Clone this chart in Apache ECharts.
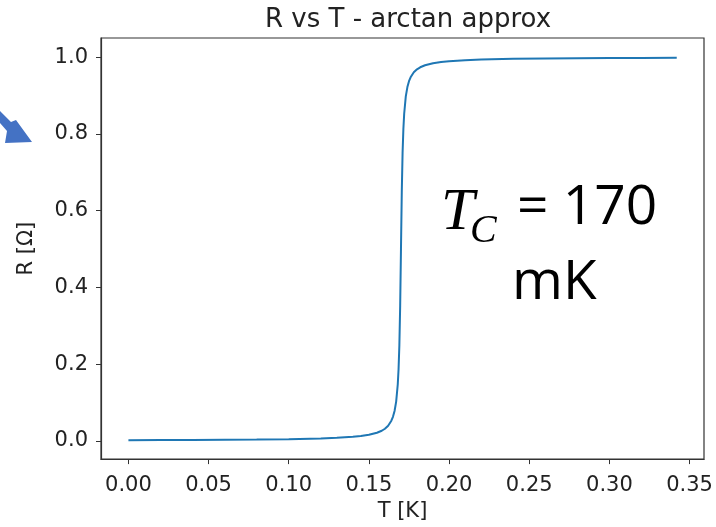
<!DOCTYPE html>
<html><head><meta charset="utf-8">
<script src="https://cdn.jsdelivr.net/npm/echarts@6/dist/echarts.min.js"></script>
<style>html,body{margin:0;padding:0;background:#fff}#c{width:716px;height:527px}</style>
</head><body><div id="c"></div>
<script>
// Temperature samples [K]
const temps = [0, 0.02, 0.04, 0.06, 0.08, 0.10, 0.12, 0.13, 0.14, 0.145, 0.15, 0.155, 0.158, 0.16, 0.162, 0.164, 0.165, 0.166, 0.167, 0.168, 0.1685, 0.169, 0.1695, 0.17, 0.1705, 0.171, 0.1715, 0.172, 0.173, 0.174, 0.175, 0.176, 0.178, 0.18, 0.182, 0.185, 0.19, 0.195, 0.20, 0.21, 0.22, 0.24, 0.26, 0.28, 0.30, 0.32, 0.342];
// Resistance [Ohm]
const resist = [0.0019, 0.0021, 0.0024, 0.0029, 0.0035, 0.0045, 0.0064, 0.0080, 0.0106, 0.0127, 0.0159, 0.0212, 0.0265, 0.0317, 0.0396, 0.0526, 0.0628, 0.0780, 0.1024, 0.1476, 0.1872, 0.25, 0.3524, 0.5, 0.6476, 0.75, 0.8128, 0.8524, 0.8976, 0.9220, 0.9372, 0.9474, 0.9604, 0.9683, 0.9735, 0.9788, 0.9841, 0.9873, 0.9894, 0.9920, 0.9936, 0.9955, 0.9965, 0.9971, 0.9976, 0.9979, 0.9981];
const xTicks = [0, 0.05, 0.10, 0.15, 0.20, 0.25, 0.30, 0.35];
const yTicks = [0, 0.2, 0.4, 0.6, 0.8, 1.0];
const titleText = 'R vs T - arctan approx';
const xName = 'T [K]';
const yName = 'R [Ω]';

const chart = echarts.init(document.getElementById('c'), null, {renderer: 'canvas'});
const font = 'DejaVu Sans';
const axisColor = '#222';
chart.setOption({
  animation: false,
  backgroundColor: '#fff',
  title: {
    text: titleText, left: 260, top: 2,
    textStyle: {fontFamily: font, fontSize: 26, fontWeight: 'normal', color: '#222'}
  },
  grid: {left: 101, right: 12, top: 38, bottom: 63, show: true, borderColor: '#333', borderWidth: 1.2, backgroundColor: 'transparent'},
  xAxis: {
    type: 'value', min: -0.0171, max: 0.359,
    name: xName, nameLocation: 'middle', nameGap: 35,
    nameTextStyle: {fontFamily: font, fontSize: 21, color: '#222'},
    axisLine: {show: true, onZero: false, lineStyle: {color: '#333', width: 1.2}},
    axisTick: {show: true, inside: false, length: 5, customValues: xTicks, lineStyle: {color: '#333', width: 1}},
    axisLabel: {customValues: xTicks, fontFamily: font, fontSize: 21, color: axisColor, margin: 16,
      formatter: v => v.toFixed(2)},
    splitLine: {show: false}
  },
  yAxis: {
    type: 'value', min: -0.0474, max: 1.0498,
    name: yName, nameLocation: 'middle', nameGap: 64, nameRotate: 90,
    nameTextStyle: {fontFamily: font, fontSize: 21, color: '#222'},
    axisLine: {show: true, onZero: false, lineStyle: {color: '#333', width: 1.2}},
    axisTick: {show: true, inside: false, length: 5, customValues: yTicks, lineStyle: {color: '#333', width: 1}},
    axisLabel: {customValues: yTicks, fontFamily: font, fontSize: 21, color: axisColor, margin: 13,
      formatter: v => v.toFixed(1)},
    splitLine: {show: false}
  },
  series: [{
    type: 'line', data: temps.map((t, i) => [t, resist[i]]),
    showSymbol: false, smooth: false,
    lineStyle: {color: '#1f77b4', width: 2}
  }],
  graphic: [
    {type: 'text', left: 441, top: 183, style: {text: 'T', font: 'italic 60px "Liberation Serif"', fill: '#000'}},
    {type: 'text', left: 470, top: 211, style: {text: 'C', font: 'italic 40px "Liberation Serif"', fill: '#000'}},
    {type: 'text', left: 517, top: 181, style: {text: '= 170', font: '55px "Open Sans"', fill: '#000'}},
    {type: 'text', left: 512, top: 256, style: {text: 'mK', font: '55px "Open Sans"', fill: '#000'}},
    {type: 'polygon', shape: {points: [[0,111],[11,122],[16,120],[32,142],[5,143],[7,131],[0,123]]}, style: {fill: '#4472C4'}}
  ]
});
</script></body></html>
